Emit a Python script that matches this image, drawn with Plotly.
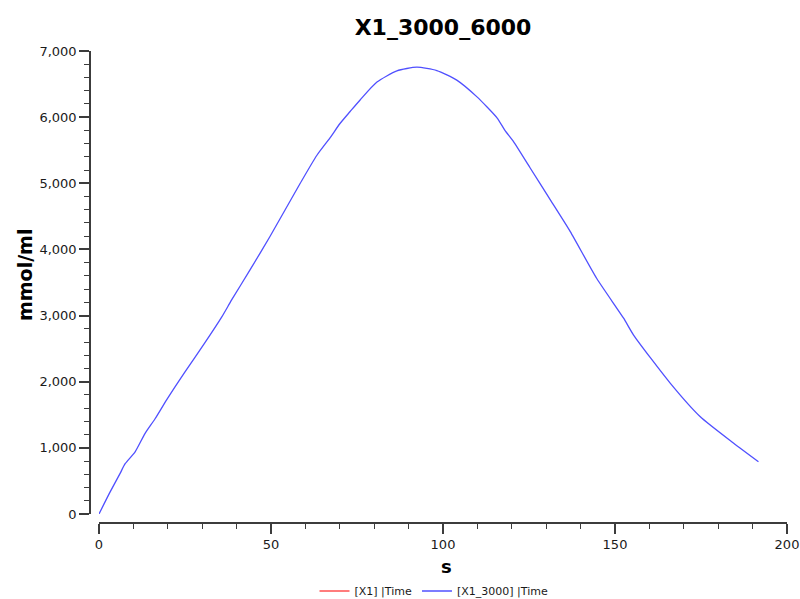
import plotly.graph_objects as go

# Simulated concentration of X1 over time
time_s = [0, 3.2, 6.1, 7.6, 10.5, 13.4, 16.3, 19.7, 25.0, 30.8, 35.7, 38.6, 43.9,
          49.7, 58.5, 63.3, 67.2, 70.0, 73.0, 75.9, 80.8, 86.6, 92.4, 98.2, 104.0,
          109.8, 115.7, 118.0, 120.5, 125.3, 131.2, 137.0, 144.7, 152.5, 155.4,
          166.1, 174.8, 184.5, 191.7]
x1_3000 = [0, 330, 610, 760, 940, 1220, 1440, 1730, 2150, 2590, 2980, 3240, 3690,
           4195, 5000, 5420, 5690, 5900, 6085, 6260, 6530, 6700, 6755, 6705, 6560,
           6310, 5990, 5800, 5630, 5235, 4750, 4270, 3560, 2960, 2705,
           1975, 1470, 1070, 790]

# [X1] series has no samples in this window
time_x1 = [None]
x1 = [None]

title_text = "X1_3000_6000"
x_label = "s"
y_label = "mmol/ml"
x_ticks = [0, 50, 100, 150, 200]
y_ticks = [0, 1000, 2000, 3000, 4000, 5000, 6000, 7000]

W, H = 800, 599
tick_font = dict(family="DejaVu Sans, Verdana, sans-serif", size=13, color="#1a1a1a")
axis_col = "#3c3c3c"

fig = go.Figure()
fig.add_trace(go.Scatter(x=time_x1, y=x1, mode="lines", name="[X1] |Time",
                         line=dict(color="rgb(255,80,80)", width=1.3)))
fig.add_trace(go.Scatter(x=time_s, y=x1_3000, mode="lines", name="[X1_3000] |Time",
                         line=dict(color="rgb(80,80,255)", width=1.3, shape="spline",
                                   smoothing=0.6)))

fig.update_layout(
    width=W, height=H,
    margin=dict(l=0, r=0, t=0, b=0, autoexpand=False),
    paper_bgcolor="white", plot_bgcolor="white",
    showlegend=True,
    legend=dict(orientation="h", x=434 / W, xanchor="center", y=1 - 591 / H,
                yanchor="middle", itemwidth=30,
                font=dict(family="DejaVu Sans, Verdana, sans-serif", size=11, color="#1a1a1a"),
                bgcolor="rgba(0,0,0,0)"),
    title=dict(text=title_text, x=443 / W, xanchor="center", y=1 - 27 / H, yanchor="middle",
               xref="paper", yref="paper",
               font=dict(family="DejaVu Sans, Verdana, sans-serif", size=22, color="black",
                         weight="bold")),
    xaxis=dict(
        domain=[99 / W, 787 / W], range=[0, 200], anchor="free", position=(H - 523) / H,
        automargin=False,
        showgrid=False, zeroline=False, showline=True, linecolor=axis_col, linewidth=1.5,
        tickmode="array", tickvals=x_ticks, ticks="outside", ticklen=10, tickwidth=1.5,
        tickcolor=axis_col, tickfont=tick_font,
        minor=dict(dtick=10, ticks="outside", ticklen=5, tickwidth=1.2, tickcolor=axis_col),
    ),
    yaxis=dict(
        domain=[(H - 514) / H, (H - 51) / H], range=[0, 7000], anchor="free", position=90 / W,
        automargin=False,
        showgrid=False, zeroline=False, showline=True, linecolor=axis_col, linewidth=1.5,
        tickmode="array", tickvals=y_ticks, tickformat=",d", ticks="outside", ticklen=10,
        tickwidth=1.5, tickcolor=axis_col, tickfont=tick_font,
        minor=dict(dtick=200, ticks="outside", ticklen=5, tickwidth=1.2, tickcolor=axis_col),
    ),
    annotations=[
        dict(text=x_label, x=446 / W, y=1 - 566 / H, xref="paper", yref="paper",
             showarrow=False, xanchor="center", yanchor="middle",
             font=dict(family="DejaVu Sans, Verdana, sans-serif", size=18, color="black",
                       weight="bold")),
        dict(text=y_label, x=25 / W, y=1 - 275 / H, xref="paper", yref="paper",
             showarrow=False, xanchor="center", yanchor="middle", textangle=-90,
             font=dict(family="DejaVu Sans, Verdana, sans-serif", size=19, color="black",
                       weight="bold")),
    ],
)

fig.write_html("out.html")
